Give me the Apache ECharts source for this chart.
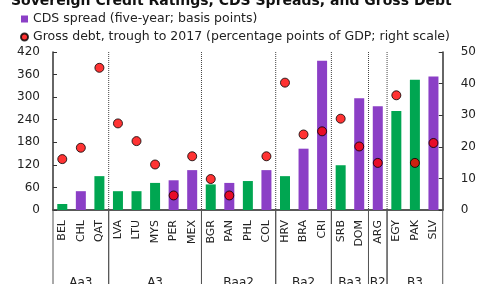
<!DOCTYPE html>
<html>
<head>
<meta charset="utf-8">
<script src="https://cdn.jsdelivr.net/npm/echarts@6/dist/echarts.min.js"></script>
<style>
  html, body { margin: 0; padding: 0; background: #fff; }
  #main { width: 479px; height: 284px; }
</style>
</head>
<body>
<div id="main"></div>
<script>
// 主权信用评级 / CDS 利差 / 总债务
var countries = ['BEL', 'CHL', 'QAT', 'LVA', 'LTU', 'MYS', 'PER', 'MEX', 'BGR', 'PAN', 'PHL',
    'COL', 'HRV', 'BRA', 'CRI', 'SRB', 'DOM', 'ARG', 'EGY', 'PAK', 'SLV'];
var cdsSpread = [16, 50, 90, 50, 50, 72, 79, 106, 68, 72, 77, 106, 90, 163, 397, 119, 297, 276, 263, 346, 355];
var grossDebt = [16.1, 19.7, 45, 27.4, 21.8, 14.4, 4.6, 17, 9.8, 4.6, '-', 17, 40.3, 23.9, 24.9, 28.9, 20.1, 14.9, 36.3, 14.9, 21.2];
var greenBars = ['BEL', 'QAT', 'LVA', 'LTU', 'MYS', 'BGR', 'PHL', 'HRV', 'SRB', 'EGY', 'PAK'];
var ratingGroups = ['Aa3', 'A3', 'Baa2', 'Ba2', 'Ba3', 'B2', 'B3'];
var groupSizes = [3, 5, 4, 3, 2, 1, 3];
var leftMax = 420, leftStep = 60;
var rightMax = 50, rightStep = 10;

var font = 'DejaVu Sans';
var myChart = echarts.init(document.getElementById('main'));

// 分组区间 [start, end]
var groupData = [];
var pos = 0;
for (var i = 0; i < ratingGroups.length; i++) {
    groupData.push([pos, pos + groupSizes[i]]);
    pos += groupSizes[i];
}

var barData = cdsSpread.map(function (v, i) {
    return {
        value: v,
        itemStyle: { color: greenBars.indexOf(countries[i]) >= 0 ? '#00a651' : '#8b3fc6' }
    };
});

var option = {
    animation: false,
    textStyle: { fontFamily: font },
    title: {
        text: 'Sovereign Credit Ratings, CDS Spreads, and Gross Debt',
        left: 6,
        top: -11,
        textStyle: { fontFamily: font, fontSize: 14, fontWeight: 'bold', color: '#111' }
    },
    legend: {
        orient: 'vertical',
        left: 15,
        top: 7,
        itemWidth: 7,
        itemHeight: 7,
        itemGap: 4,
        textStyle: { fontFamily: font, fontSize: 12.5, color: '#222', lineHeight: 14 },
        data: [
            { name: 'CDS spread (five-year; basis points)', icon: 'rect' },
            { name: 'Gross debt, trough to 2017 (percentage points of GDP; right scale)', icon: 'circle' }
        ]
    },
    grid: { left: 53, right: 35, top: 52, bottom: 74 },
    xAxis: [
        {
            type: 'category',
            data: countries,
            axisLine: { lineStyle: { color: '#333', width: 1.5 } },
            axisTick: { show: false },
            axisLabel: { rotate: 90, margin: 10, fontSize: 11, color: '#222', fontFamily: font }
        },
        {
            type: 'value',
            position: 'top',
            min: 0,
            max: countries.length,
            axisLine: { show: true, lineStyle: { color: '#555', width: 1.5 } },
            axisTick: { show: false },
            axisLabel: { show: false },
            splitLine: { show: false }
        }
    ],
    yAxis: [
        {
            type: 'value',
            min: 0,
            max: leftMax,
            interval: leftStep,
            axisLine: { show: true, lineStyle: { color: '#333', width: 1.5 } },
            axisTick: { show: true, inside: true, length: 4, lineStyle: { color: '#333' } },
            axisLabel: { margin: 13, fontSize: 12, color: '#222', fontFamily: font },
            splitLine: { show: false }
        },
        {
            type: 'value',
            min: 0,
            max: rightMax,
            interval: rightStep,
            axisLine: { show: true, lineStyle: { color: '#333', width: 1.5 } },
            axisTick: { show: true, inside: true, length: 4, lineStyle: { color: '#333' } },
            axisLabel: { margin: 18, fontSize: 12, color: '#222', fontFamily: font },
            splitLine: { show: false }
        }
    ],
    series: [
        {
            name: 'CDS spread (five-year; basis points)',
            type: 'bar',
            barWidth: 10,
            itemStyle: { color: '#8b3fc6' },
            data: barData,
            z: 2
        },
        {
            name: 'groups',
            type: 'custom',
            xAxisIndex: 1,
            yAxisIndex: 0,
            silent: true,
            clip: false,
            z: 1,
            data: groupData,
            renderItem: function (params, api) {
                var s = api.value(0), e = api.value(1);
                var bl = api.coord([s, 0]);
                var br = api.coord([e, 0]);
                var tr = api.coord([e, leftMax]);
                var below = 74;
                var children = [
                    { type: 'line', shape: { x1: bl[0], y1: bl[1], x2: bl[0], y2: bl[1] + below },
                      style: { stroke: '#555', lineWidth: 1 } },
                    { type: 'line', shape: { x1: br[0], y1: br[1], x2: br[0], y2: br[1] + below },
                      style: { stroke: '#555', lineWidth: 1 } },
                    { type: 'text', x: (bl[0] + br[0]) / 2, y: bl[1] + 73,
                      style: { text: ratingGroups[params.dataIndex], fill: '#222', fontSize: 12,
                               fontFamily: font, align: 'center', verticalAlign: 'middle' } }
                ];
                if (e < countries.length) {
                    children.push({ type: 'line', shape: { x1: tr[0], y1: tr[1], x2: br[0], y2: br[1] },
                        style: { stroke: '#444', lineWidth: 1, lineDash: [1, 1] } });
                }
                return { type: 'group', children: children };
            }
        },
        {
            name: 'Gross debt, trough to 2017 (percentage points of GDP; right scale)',
            type: 'scatter',
            yAxisIndex: 1,
            symbolSize: 9,
            itemStyle: { color: '#ff0000', borderColor: '#000', borderWidth: 1 },
            data: grossDebt,
            z: 3
        }
    ]
};
myChart.setOption(option);
</script>
</body>
</html>
